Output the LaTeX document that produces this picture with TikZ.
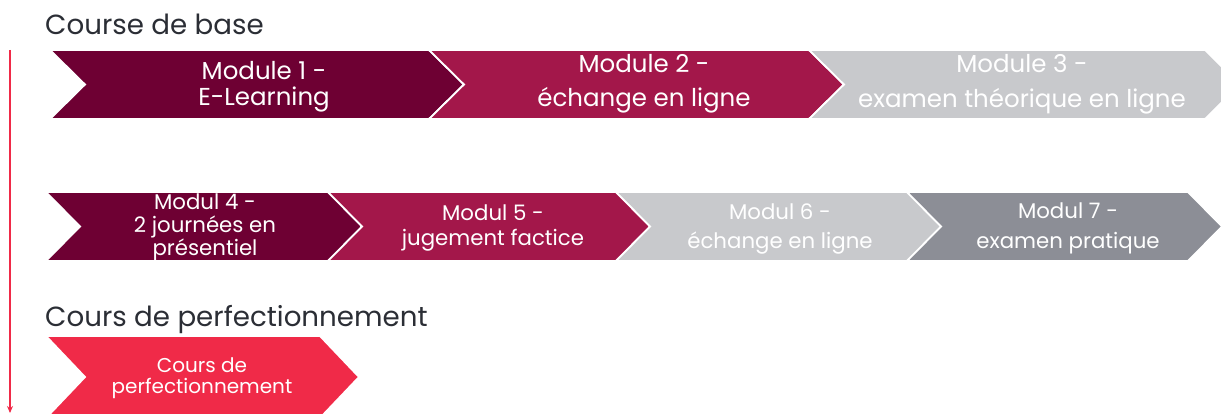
\documentclass[tikz,border=0pt]{standalone}
\usepackage{fontspec}
\setmainfont{Poppins}
\usetikzlibrary{arrows.meta}
\definecolor{cmaroon}{HTML}{6E0033}
\definecolor{ccrimson}{HTML}{A3174A}
\definecolor{clgray}{HTML}{C8C9CC}
\definecolor{cmgray}{HTML}{8C8E96}
\definecolor{credp}{HTML}{F02A48}
\definecolor{chead}{HTML}{2B2E35}
\newcommand{\chev}[6]{%
  \path[fill=#6, draw=white, line width=1.8pt, line join=miter]
    (#1,#3) -- (#2,#3) -- ({#2+#5},{(#3+#4)/2}) -- (#2,#4) -- (#1,#4)
    -- ({#1+#5},{(#3+#4)/2}) -- cycle;}
\tikzset{
  heading/.style={anchor=base west, inner sep=0pt, text=chead, font=\fontsize{27.7}{34}\selectfont},
  rowone/.style={anchor=base, inner sep=0pt, align=center, text=white, font=\fontsize{24.5}{#1}\selectfont},
  rowtwo/.style={anchor=base, inner sep=0pt, align=center, text=white, font=\fontsize{21.3}{#1}\selectfont},
  rowthree/.style={anchor=base, inner sep=0pt, align=center, text=white, font=\fontsize{20}{#1}\selectfont},
}
\begin{document}
\begin{tikzpicture}[x=1pt,y=-1pt]
\useasboundingbox (0,0) rectangle (1221,414);
\begin{scope}
\clip (0,0) rectangle (1221,414);
% row 1
\chev{50}{429}{50}{119}{35}{cmaroon}
\chev{429}{809}{50}{119}{35}{ccrimson}
\chev{809}{1205}{50}{119}{35}{clgray}
% row 2
\chev{46}{328}{192}{261}{34}{cmaroon}
\chev{328}{616}{192}{261}{34}{ccrimson}
\chev{616}{907}{192}{261}{34}{clgray}
\chev{907}{1188}{192}{261}{34}{cmgray}
% row 3
\chev{46}{320}{336}{418}{39}{credp}
\end{scope}
% headings
\node[heading] (h1) at (45,35) {Course de base};
\node[heading] (h2) at (45,326) {Cours de perfectionnement};
% texts (anchor = baseline of last line)
\node[rowone=26] (m1) at (264,106) {Module 1 -\\E-Learning};
\node[rowone=34] (m2) at (644,107) {Module 2 -\\échange en ligne};
\node[rowone=35] (m3) at (1022,108) {Module 3 -\\examen théorique en ligne};
\node[rowtwo=23] (m4) at (205,255) {Modul 4 -\\2 journées en\\présentiel};
\node[rowtwo=25] (m5) at (493,246) {Modul 5 -\\jugement factice};
\node[rowtwo=29] (m6) at (780,249) {Modul 6 -\\échange en ligne};
\node[rowtwo=29] (m7) at (1068,248) {Modul 7 -\\examen pratique};
\node[rowthree=21] (m8) at (202,393) {Cours de\\perfectionnement};
% arrow
\coordinate (atop) at (10,50);
\coordinate (abot) at (10,413);
\draw[credp, line width=1.5pt, -{Stealth[length=7pt,width=6pt]}] (atop) -- (abot);
\end{tikzpicture}
\end{document}
